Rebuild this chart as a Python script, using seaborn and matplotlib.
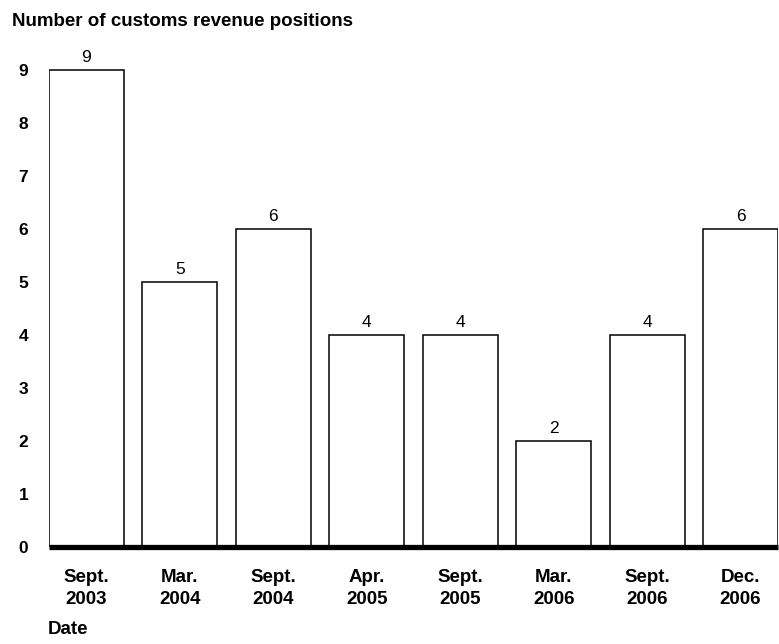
import matplotlib
matplotlib.use("Agg")
import matplotlib.pyplot as plt
import seaborn as sns
import pandas as pd

categories = ["Sept.\n2003", "Mar.\n2004", "Sept.\n2004", "Apr.\n2005",
              "Sept.\n2005", "Mar.\n2006", "Sept.\n2006", "Dec.\n2006"]
values = [9, 5, 6, 4, 4, 2, 4, 6]
y_ticks = list(range(0, 10))

sns.set_style("white")
plt.rcParams['font.family'] = ['Liberation Sans', 'DejaVu Sans']
plt.rcParams['text.color'] = 'black'
plt.rcParams['xtick.color'] = 'black'
plt.rcParams['ytick.color'] = 'black'

df = pd.DataFrame({"date": categories, "positions": values})

fig = plt.figure(figsize=(7.79, 6.44), dpi=100)
ax = fig.add_axes([49/779, 97/644, 729/779, (547-38)/644])

sns.barplot(data=df, x="date", y="positions", color="white", edgecolor="black",
            linewidth=1.1, width=0.8, saturation=1, ax=ax)

for i, v in enumerate(values):
    ax.annotate(str(v), (i, v), xytext=(0, 3.5), textcoords="offset points",
                ha="center", va="bottom", fontsize=12.5, color="black")

ax.set_xlim(-0.4, len(values) - 0.6)
ax.set_ylim(0, 9.6)
ax.set_yticks(y_ticks)
ax.set_yticklabels([str(t) for t in y_ticks], fontsize=12.5, fontweight="bold")
ax.set_xticks(range(len(categories)))
ax.set_xticklabels(categories, fontsize=13.5, fontweight="bold", linespacing=1.4)
ax.tick_params(axis="x", length=0, pad=15.5)
ax.tick_params(axis="y", length=0, pad=15)
ax.set_xlabel("")
ax.set_ylabel("")
for s in ["left", "right", "top"]:
    ax.spines[s].set_visible(False)
ax.spines["bottom"].set_linewidth(3.8)
ax.spines["bottom"].set_color("black")
ax.spines["bottom"].set_capstyle("butt")

fig.text(12/779, 1 - 21/644, "Number of customs revenue positions", fontsize=13.5,
         fontweight="bold", ha="left", va="center")
fig.text(48/779, 1 - 629/644, "Date", fontsize=13.5, fontweight="bold",
         ha="left", va="center")

fig.savefig("out.png", dpi=100, facecolor="white")
